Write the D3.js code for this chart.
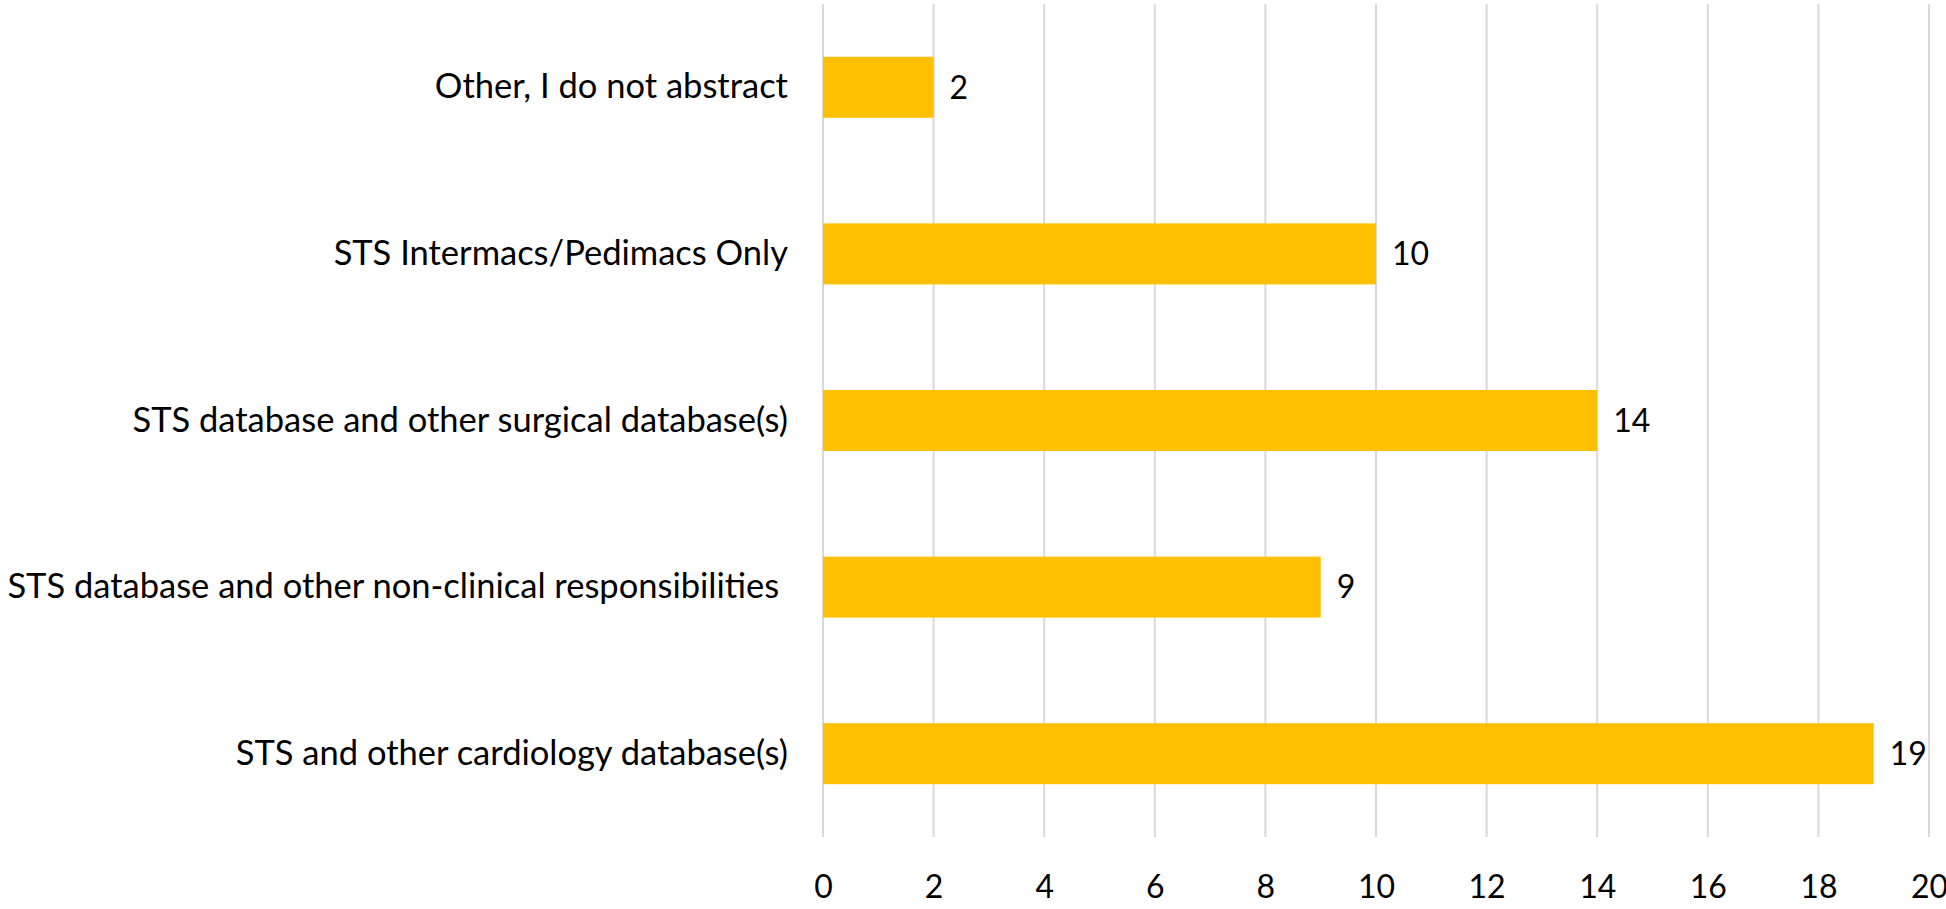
<!DOCTYPE html>
<html>
<head>
<meta charset="utf-8">
<script src="https://cdn.jsdelivr.net/npm/d3@7"></script>
<style>
  body { margin: 0; background: #fff; }
  text { font-family: Lato, "Open Sans", sans-serif; fill: #000; }
</style>
</head>
<body>
<div class="chart"></div>
<script>
const categories = [
    "Other, I do not abstract",
    "STS Intermacs/Pedimacs Only",
    "STS database and other surgical database(s)",
    "STS database and other non-clinical responsibilities ",
    "STS and other cardiology database(s)"
];
const counts = [2, 10, 14, 9, 19];
const xTicks = [0, 2, 4, 6, 8, 10, 12, 14, 16, 18, 20];

const width = 1946;
const height = 909;
const margin = { top: 4, right: 17, bottom: 72, left: 823 };

const svg = d3.select(".chart")
    .append("svg")
    .attr("width", width)
    .attr("height", height)
    .append("g")
    .attr("transform", "translate(" + margin.left + "," + margin.top + ")");

const w = width - margin.left - margin.right;
const h = height - margin.top - margin.bottom;

const x = d3.scaleLinear()
    .domain([0, 20])
    .range([0, w]);

const y = d3.scaleBand()
    .domain(categories)
    .range([0, h])
    .paddingInner(0.634)
    .paddingOuter(0.317);

// gridlines
svg.append("g")
    .selectAll("line")
    .data(xTicks)
    .enter()
    .append("line")
    .attr("x1", d => x(d))
    .attr("x2", d => x(d))
    .attr("y1", 0)
    .attr("y2", h)
    .style("stroke", "#d9d9d9")
    .style("stroke-width", 2);

// x axis labels
const xAxis = svg.append("g")
    .attr("transform", "translate(0," + h + ")")
    .call(d3.axisBottom(x).tickValues(xTicks).tickSize(0).tickPadding(38));
xAxis.select(".domain").remove();
xAxis.selectAll("text")
    .style("font-size", "32px")
    .attr("fill", "#000");

// y axis labels
const yAxis = svg.append("g")
    .call(d3.axisLeft(y).tickSize(0).tickPadding(35));
yAxis.select(".domain").remove();
yAxis.selectAll("text")
    .style("font-size", "34.5px")
    .style("white-space", "pre")
    .attr("fill", "#000");

svg.append("g")
    .selectAll("rect")
    .data(categories)
    .enter()
    .append("rect")
    .attr("x", x(0))
    .attr("y", d => y(d))
    .attr("width", (d, i) => x(counts[i]) - x(0))
    .attr("height", y.bandwidth())
    .style("fill", "#ffc000");

svg.append("g")
    .selectAll("text")
    .data(categories)
    .enter()
    .append("text")
    .attr("x", (d, i) => x(counts[i]) + 16)
    .attr("y", d => y(d) + y.bandwidth() / 2)
    .attr("dy", "0.35em")
    .style("font-size", "32px")
    .text((d, i) => counts[i]);
</script>
</body>
</html>
